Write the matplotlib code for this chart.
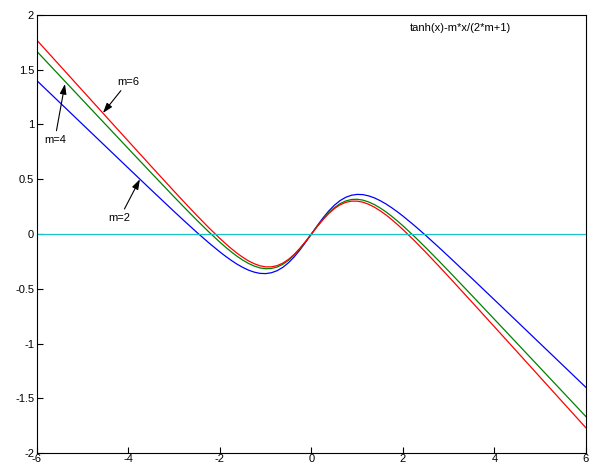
import matplotlib
matplotlib.use('Agg')
import matplotlib.pyplot as plt
plt.rcParams['font.family'] = ['Liberation Sans', 'DejaVu Sans']

# x positions and curve values
x = [-6, -5.5, -5, -4.5, -4, -3.5, -3, -2.75, -2.5, -2.25,
     -2, -1.875, -1.75, -1.625, -1.5, -1.375, -1.25, -1.125, -1, -0.875, -0.75, -0.625, -0.5, -0.375, -0.25, -0.125,
     0, 0.125, 0.25, 0.375, 0.5, 0.625, 0.75, 0.875, 1, 1.125, 1.25, 1.375, 1.5, 1.625, 1.75, 1.875, 2,
     2.25, 2.5, 2.75, 3, 3.5, 4, 4.5, 5, 5.5, 6]

m2 = [1.4, 1.2, 1.0001, 0.8002, 0.6007, 0.4018, 0.2049, 0.1081, 0.0134, -0.0780,
      -0.1640, -0.2040, -0.2414, -0.2757, -0.3051, -0.3301, -0.3483, -0.3596, -0.3616, -0.3539, -0.3351, -0.3046,
      -0.2621, -0.2084, -0.1449, -0.0744,
      0, 0.0744, 0.1449, 0.2084, 0.2621, 0.3046, 0.3351, 0.3539, 0.3616, 0.3596, 0.3483, 0.3301, 0.3051, 0.2757,
      0.2414, 0.2040, 0.1640,
      0.0780, -0.0134, -0.1081, -0.2049, -0.4018, -0.6007, -0.8002, -1.0001, -1.2, -1.4]
m4 = [1.6667, 1.4444, 1.2223, 1.0002, 0.7785, 0.5574, 0.3382, 0.2303, 0.1245, 0.0220,
      -0.0751, -0.1207, -0.1636, -0.2035, -0.2384, -0.2690, -0.2927, -0.3096, -0.3172, -0.3150, -0.3018, -0.2768,
      -0.2399, -0.1917, -0.1338, -0.0688,
      0, 0.0688, 0.1338, 0.1917, 0.2399, 0.2768, 0.3018, 0.3150, 0.3172, 0.3096, 0.2927, 0.2690, 0.2384, 0.2035,
      0.1636, 0.1207, 0.0751,
      -0.0220, -0.1245, -0.2303, -0.3382, -0.5574, -0.7785, -1.0002, -1.2223, -1.4444, -1.6667]
m6 = [1.7692, 1.5385, 1.3078, 1.0771, 0.8469, 0.6172, 0.3895, 0.2773, 0.1672, 0.0605,
      -0.0409, -0.0886, -0.1337, -0.1757, -0.2128, -0.2455, -0.2714, -0.2904, -0.3001, -0.3001, -0.2889, -0.2661,
      -0.2313, -0.1853, -0.1295, -0.0667,
      0, 0.0667, 0.1295, 0.1853, 0.2313, 0.2661, 0.2889, 0.3001, 0.3001, 0.2904, 0.2714, 0.2455, 0.2128, 0.1757,
      0.1337, 0.0886, 0.0409,
      -0.0605, -0.1672, -0.2773, -0.3895, -0.6172, -0.8469, -1.0771, -1.3078, -1.5385, -1.7692]
zero_x = [-6, 6]
zero_y = [0, 0]

xticks = [-6, -4, -2, 0, 2, 4, 6]
yticks = [-2, -1.5, -1, -0.5, 0, 0.5, 1, 1.5, 2]
ytick_labels = ['-2', '-1.5', '-1', '-0.5', '0', '0.5', '1', '1.5', '2']

fig = plt.figure(figsize=(5.96, 4.68), dpi=100)
ax = fig.add_axes([0.062, 0.032, 0.921, 0.936])

ax.plot(x, m2, color='#0000ff', lw=0.9)
ax.plot(x, m4, color='#008000', lw=0.9)
ax.plot(x, m6, color='#ff0000', lw=0.9)
ax.plot(zero_x, zero_y, color='#19c3c8', lw=0.9)

ax.set_xlim(-6, 6)
ax.set_ylim(-2, 2)
ax.set_xticks(xticks)
ax.set_xticklabels([str(t) for t in xticks])
ax.set_yticks(yticks)
ax.set_yticklabels(ytick_labels)
ax.tick_params(direction='in', length=4, width=0.8, labelsize=8, pad=2)
ax.tick_params(axis='x', pad=1)
for s in ax.spines.values():
    s.set_linewidth(0.8)

ax.text(3.25, 1.88, 'tanh(x)-m*x/(2*m+1)', fontsize=8, ha='center', va='center')

arrow = dict(arrowstyle='-|>,head_length=0.6,head_width=0.2', color='black', lw=0.8,
             mutation_scale=10, shrinkA=1, shrinkB=0)
ax.annotate('m=6', xy=(-4.557, 1.105), xytext=(-4.01, 1.39), fontsize=8, ha='center', va='center',
            arrowprops=arrow)
ax.annotate('m=4', xy=(-5.388, 1.37), xytext=(-5.61, 0.86), fontsize=8, ha='center', va='center',
            arrowprops=arrow)
ax.annotate('m=2', xy=(-3.749, 0.50), xytext=(-4.19, 0.146), fontsize=8, ha='center', va='center',
            arrowprops=arrow)

fig.savefig('out.png', dpi=100)
